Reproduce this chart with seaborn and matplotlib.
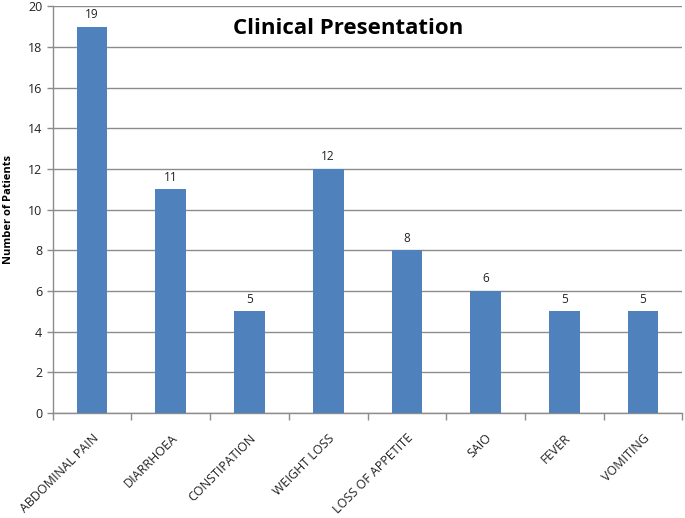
import matplotlib
matplotlib.use("Agg")
import matplotlib.pyplot as plt
import seaborn as sns
import pandas as pd
import numpy as np

symptoms = ['ABDOMINAL PAIN', 'DIARRHOEA', 'CONSTIPATION', 'WEIGHT LOSS',
            'LOSS OF APPETITE', 'SAIO', 'FEVER', 'VOMITING']
patients = [19, 11, 5, 12, 8, 6, 5, 5]
yticks = list(range(0, 21, 2))

sns.set_style("white")
plt.rcParams['font.family'] = ['Open Sans', 'DejaVu Sans']
plt.rcParams['text.color'] = 'black'

df = pd.DataFrame({'Symptom': symptoms, 'Patients': patients})

fig = plt.figure(figsize=(6.85, 5.18), dpi=100)
ax = fig.add_axes([0.077, 0.203, 0.919, 0.785])

sns.barplot(data=df, x='Symptom', y='Patients', color='#4F81BD',
            saturation=1, width=0.39, ax=ax, zorder=3, linewidth=0)

for c in ax.containers:
    ax.bar_label(c, padding=4, fontsize=8.5, color='#222222')

ax.set_ylim(0, 20)
ax.set_yticks(yticks)
ax.set_xlim(-0.5, len(symptoms) - 0.5)
ax.yaxis.grid(True, color='#8c8c8c', linewidth=1, zorder=0)
ax.set_axisbelow(True)

for s in ['top', 'right']:
    ax.spines[s].set_visible(False)
for s in ['left', 'bottom']:
    ax.spines[s].set_color('#8c8c8c')
    ax.spines[s].set_linewidth(1)

# category boundary ticks on x axis
ax.set_xticks(np.arange(len(symptoms)), labels=symptoms)
ax.set_xticks(np.arange(len(symptoms) + 1) - 0.5, minor=True)
ax.tick_params(axis='x', which='major', bottom=False, pad=10)
ax.tick_params(axis='x', which='minor', bottom=True, length=5,
               width=1, color='#8c8c8c')
ax.tick_params(axis='y', left=True, length=4, width=1, color='#8c8c8c',
               labelsize=9, labelcolor='#222222')
plt.setp(ax.get_xticklabels(), rotation=45, ha='right',
         rotation_mode='anchor', fontsize=9, color='#222222')

ax.set_xlabel('')
ax.set_ylabel('Number of Patients', fontsize=8, fontweight='bold',
              color='black', labelpad=10)
ax.text(0.47, 0.972, 'Clinical Presentation', transform=ax.transAxes,
        ha='center', va='top', fontsize=16, fontweight='bold', color='black')

fig.savefig('out.png', dpi=100)
